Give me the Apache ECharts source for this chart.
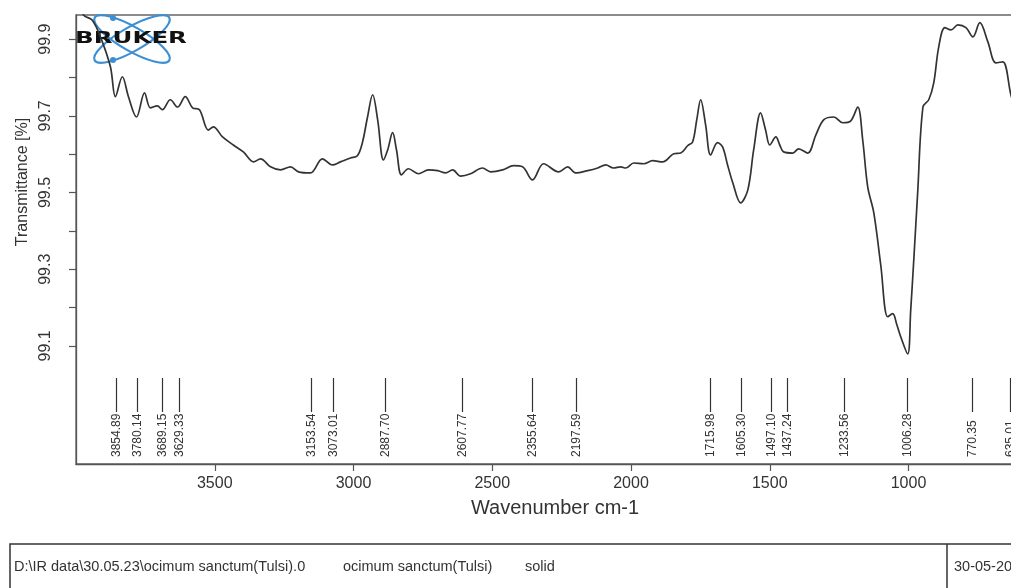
<!DOCTYPE html>
<html><head><meta charset="utf-8">
<script src="https://cdn.jsdelivr.net/npm/echarts@6/dist/echarts.min.js"></script>
<style>html,body{margin:0;padding:0;background:#fff;overflow:hidden;width:1011px;height:588px;}#c{width:1075px;height:588px;}</style>
</head><body><div id="c"></div>
<script>
// ---- data ----
const wavenumbers = [4000,3973,3942,3912,3876,3858,3833,3811,3782,3753,
 3732,3707,3689,3660,3634,3606,3580,3555,3523,3505,
 3472,3433,3397,3360,3335,3299,3263,3227,3198,3155,
 3112,3076,3047,3011,2986,2968,2950,2931,2913,2892,
 2877,2859,2845,2827,2802,2766,2730,2697,2668,2643,
 2614,2578,2535,2506,2463,2423,2391,2355,2315,2261,
 2228,2200,2156,2120,2091,2063,2037,2019,1990,1954,
 1922,1886,1846,1821,1796,1778,1763,1749,1731,1713,
 1688,1670,1652,1633,1605,1579,1558,1533,1515,1500,
 1478,1464,1450,1417,1396,1363,1334,1305,1269,1237,
 1208,1183,1165,1147,1125,1100,1075,1057,1042,1028,
 1003,992,981,967,948,927,909,891,869,847,
 822,793,768,743,714,685,660,631,610];
const transmittance = [100.02,99.963,99.950,99.906,99.828,99.750,99.802,99.750,99.697,99.760,
 99.721,99.726,99.716,99.742,99.723,99.750,99.721,99.716,99.663,99.671,
 99.645,99.624,99.606,99.580,99.588,99.567,99.559,99.567,99.554,99.551,
 99.588,99.572,99.580,99.590,99.596,99.630,99.695,99.755,99.690,99.585,
 99.611,99.656,99.611,99.546,99.562,99.549,99.559,99.557,99.551,99.559,
 99.543,99.549,99.564,99.554,99.559,99.570,99.567,99.533,99.575,99.554,
 99.567,99.551,99.557,99.564,99.572,99.564,99.567,99.564,99.577,99.575,
 99.583,99.580,99.601,99.603,99.622,99.632,99.690,99.742,99.676,99.598,
 99.630,99.619,99.572,99.525,99.473,99.507,99.611,99.708,99.663,99.624,
 99.645,99.624,99.606,99.603,99.614,99.603,99.650,99.690,99.697,99.682,
 99.687,99.723,99.637,99.515,99.447,99.311,99.176,99.184,99.155,99.124,
 99.079,99.194,99.324,99.499,99.723,99.742,99.786,99.880,99.930,99.924,
 99.937,99.930,99.906,99.943,99.893,99.838,99.841,99.755,99.702];
const peakWavenumbers = [3854.89,3780.14,3689.15,3629.33,3153.54,3073.01,2887.70,2607.77,
 2355.64,2197.59,1715.98,1605.30,1497.10,1437.24,1233.56,1006.28,770.35,635.01];
const xTickValues = [1000,1500,2000,2500,3000,3500];
const yTickValues = [99.1,99.2,99.3,99.4,99.5,99.6,99.7,99.8,99.9];
const yLabelValues = [99.1,99.3,99.5,99.7,99.9];
const xRange = [400, 4000];
const yRange = [98.792, 99.963];
const xTitle = 'Wavenumber cm-1';
const yTitle = 'Transmittance [%]';
const footerFile = 'D:\\IR data\\30.05.23\\ocimum sanctum(Tulsi).0';
const footerSample = 'ocimum sanctum(Tulsi)';
const footerForm = 'solid';
const footerDate = '30-05-2023';
const logoText = 'BRUKER';

// ---- chart ----
const FONT = "'Liberation Sans',Arial,sans-serif";
const TXT = '#333';
const chart = echarts.init(document.getElementById('c'), null, {renderer:'canvas'});
const lineData = wavenumbers.map((w,i)=>[w, transmittance[i]]);

chart.setOption({
  animation:false,
  backgroundColor:'#fff',
  grid:{left:76, top:15, right:0, bottom:124, show:true, borderColor:'#666', borderWidth:1.3},
  xAxis:{
    type:'value', inverse:true, min:xRange[0], max:xRange[1],
    name:xTitle, nameLocation:'middle', nameGap:34,
    nameTextStyle:{fontFamily:FONT, fontSize:20, color:TXT, padding:[0,41,0,0]},
    axisLine:{show:true, lineStyle:{color:'#555', width:1.3}},
    axisTick:{show:true, customValues:xTickValues, length:7, lineStyle:{color:'#555', width:1.2}},
    axisLabel:{customValues:xTickValues, fontFamily:FONT, fontSize:16, color:TXT, margin:12,
      formatter:v=>String(v)},
    splitLine:{show:false}
  },
  yAxis:{
    type:'value', min:yRange[0], max:yRange[1],
    name:yTitle, nameLocation:'middle', nameGap:42, nameRotate:90,
    nameTextStyle:{fontFamily:FONT, fontSize:16, color:TXT, padding:[0,0,0,115]},
    axisLine:{show:true, lineStyle:{color:'#555', width:1.3}},
    axisTick:{show:true, customValues:yTickValues, length:7, lineStyle:{color:'#555', width:1.2}},
    axisLabel:{customValues:yLabelValues, rotate:90, margin:22, fontFamily:FONT, fontSize:16, color:TXT,
      formatter:v=>Number(v).toFixed(1)},
    splitLine:{show:false}
  },
  series:[
    {type:'line', data:lineData, showSymbol:false, smooth:0.35, clip:true,
     lineStyle:{color:'#333', width:1.7}, z:3},
    {type:'custom', data:peakWavenumbers.map(w=>[w, yRange[0]]), clip:false, z:4,
     renderItem:(params, api)=>{
       const w = api.value(0);
       const p = api.coord([w, yRange[0]]);
       const x = Math.round(p[0]) + 0.5, yb = p[1];
       return {type:'group', children:[
         {type:'line', shape:{x1:x, y1:yb-86, x2:x, y2:yb-52}, style:{stroke:'#333', lineWidth:1.2}},
         {type:'text', x:x, y:yb-7, rotation:Math.PI/2,
          style:{text:w.toFixed(2), align:'left', verticalAlign:'middle', font:"12px "+FONT, fill:TXT}}
       ]};
     }}
  ],
  graphic:[
    {type:'group', z:100, children:[
      {type:'ellipse', x:132, y:39, rotation:-0.52, shape:{cx:0, cy:0, rx:43, ry:12},
       style:{fill:null, stroke:'#3d8fd4', lineWidth:2.2}},
      {type:'ellipse', x:132, y:39, rotation:0.52, shape:{cx:0, cy:0, rx:43, ry:12},
       style:{fill:null, stroke:'#3d8fd4', lineWidth:2.2}},
      {type:'circle', shape:{cx:113, cy:18, r:3}, style:{fill:'#3d8fd4'}},
      {type:'circle', shape:{cx:113, cy:60, r:3}, style:{fill:'#3d8fd4'}},
      {type:'text', x:131, y:39, scaleX:1.53,
       style:{text:logoText, align:'center', verticalAlign:'middle', font:"bold 16px 'DejaVu Sans',sans-serif", fill:'#111'}}
    ]},
    {type:'group', children:[
      {type:'rect', shape:{x:10, y:544, width:1060, height:80}, style:{fill:null, stroke:'#333', lineWidth:1.5}},
      {type:'line', shape:{x1:947, y1:544, x2:947, y2:600}, style:{stroke:'#333', lineWidth:1.5}},
      {type:'text', x:14, y:567, style:{text:footerFile, verticalAlign:'middle', font:"14.5px "+FONT, fill:TXT}},
      {type:'text', x:343, y:567, style:{text:footerSample, verticalAlign:'middle', font:"14.5px "+FONT, fill:TXT}},
      {type:'text', x:525, y:567, style:{text:footerForm, verticalAlign:'middle', font:"14.5px "+FONT, fill:TXT}},
      {type:'text', x:954, y:567, style:{text:footerDate, verticalAlign:'middle', font:"14.5px "+FONT, fill:TXT}}
    ]}
  ]
});
</script></body></html>
